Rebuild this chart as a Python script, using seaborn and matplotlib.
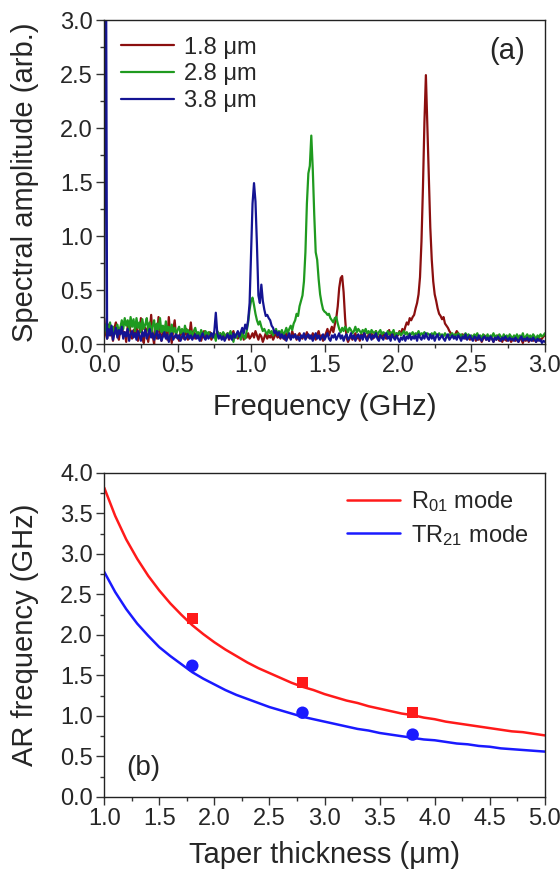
import numpy as np
import pandas as pd
import matplotlib
matplotlib.use("Agg")
import matplotlib.pyplot as plt
from matplotlib.ticker import MultipleLocator, FormatStrFormatter
import seaborn as sns

# ---- panel (a): spectra, sampled every 0.01 GHz from 0.00 to 3.00 ----
freq = np.round(np.arange(301) * 0.01, 2)

amp_18 = [
    0.24, 0.10, 0.05, 0.18, 0.08, 0.12, 0.03, 0.15, 0.20, 0.09,
    0.04, 0.14, 0.19, 0.07, 0.11, 0.02, 0.16, 0.21, 0.10, 0.05,
    0.13, 0.08, 0.18, 0.03, 0.11, 0.24, 0.06, 0.01, 0.15, 0.09,
    0.02, 0.12, 0.27, 0.08, 0.00, 0.18, 0.05, 0.25, 0.10, 0.03,
    0.12, 0.07, 0.18, 0.04, 0.25, 0.09, 0.01, 0.13, 0.22, 0.06,
    0.08, 0.03, 0.12, 0.10, 0.05, 0.09, 0.14, 0.04, 0.08, 0.20,
    0.07, 0.11, 0.05, 0.10, 0.06, 0.09, 0.03, 0.08, 0.12, 0.05,
    0.09, 0.06, 0.11, 0.04, 0.08, 0.10, 0.05, 0.09, 0.07, 0.10,
    0.06, 0.09, 0.05, 0.08, 0.10, 0.04, 0.07, 0.09, 0.12, 0.06,
    0.08, 0.05, 0.09, 0.07, 0.11, 0.04, 0.08, 0.06, 0.10, 0.05,
    0.07, 0.10, 0.06, 0.12, 0.08, 0.04, 0.09, 0.07, 0.02, 0.06,
    0.10, 0.05, 0.08, 0.06, 0.09, 0.04, 0.07, 0.11, 0.06, 0.08,
    0.05, 0.09, 0.07, 0.04, 0.10, 0.06, 0.08, 0.05, 0.12, 0.07,
    0.09, 0.04, 0.08, 0.10, 0.06, 0.05, 0.09, 0.07, 0.11, 0.06,
    0.08, 0.05, 0.10, 0.07, 0.04, 0.09, 0.12, 0.06, 0.08, 0.03,
    0.07, 0.10, 0.14, 0.08, 0.12, 0.16, 0.11, 0.18, 0.24, 0.35,
    0.52, 0.61, 0.63, 0.48, 0.24, 0.06, 0.02, 0.05, 0.08, 0.04,
    0.07, 0.10, 0.05, 0.08, 0.03, 0.09, 0.06, 0.11, 0.07, 0.04,
    0.09, 0.06, 0.10, 0.05, 0.08, 0.12, 0.07, 0.04, 0.09, 0.06,
    0.10, 0.07, 0.05, 0.09, 0.13, 0.06, 0.08, 0.11, 0.07, 0.10,
    0.08, 0.12, 0.09, 0.14, 0.11, 0.16, 0.20, 0.18, 0.24, 0.22,
    0.25, 0.27, 0.33, 0.38, 0.46, 0.62, 0.95, 1.45, 2.05, 2.49,
    2.02, 1.55, 1.08, 0.78, 0.58, 0.46, 0.40, 0.33, 0.28, 0.26,
    0.23, 0.25, 0.19, 0.17, 0.15, 0.12, 0.10, 0.08, 0.07, 0.09,
    0.12, 0.10, 0.08, 0.06, 0.09, 0.07, 0.05, 0.08, 0.06, 0.04,
    0.07, 0.05, 0.08, 0.03, 0.06, 0.04, 0.07, 0.02, 0.05, 0.08,
    0.04, 0.06, 0.03, 0.07, 0.05, 0.02, 0.06, 0.04, 0.08, 0.03,
    0.05, 0.02, 0.06, 0.04, 0.03, 0.07, 0.05, 0.02, 0.04, 0.06,
    0.03, 0.05, 0.02, 0.06, 0.04, 0.01, 0.05, 0.03, 0.06, 0.02,
    0.04, 0.06, 0.03, 0.05, 0.02, 0.04, 0.06, 0.03, 0.05, 0.07,
    0.08,
]

amp_28 = [
    0.12, 0.18, 0.08, 0.14, 0.20, 0.10, 0.16, 0.09, 0.13, 0.18,
    0.11, 0.15, 0.22, 0.14, 0.24, 0.17, 0.22, 0.13, 0.25, 0.16,
    0.23, 0.12, 0.24, 0.15, 0.20, 0.11, 0.23, 0.14, 0.18, 0.24,
    0.12, 0.20, 0.09, 0.17, 0.22, 0.10, 0.19, 0.13, 0.24, 0.11,
    0.17, 0.09, 0.21, 0.12, 0.16, 0.08, 0.18, 0.11, 0.15, 0.09,
    0.13, 0.16, 0.10, 0.14, 0.08, 0.17, 0.11, 0.13, 0.09, 0.12,
    0.08, 0.12, 0.15, 0.09, 0.11, 0.07, 0.13, 0.10, 0.08, 0.12,
    0.09, 0.11, 0.07, 0.10, 0.06, 0.09, 0.03, 0.12, 0.08, 0.10,
    0.07, 0.11, 0.09, 0.06, 0.10, 0.08, 0.12, 0.07, 0.02, 0.09,
    0.06, 0.10, 0.08, 0.04, 0.11, 0.07, 0.05, 0.12, 0.20, 0.32,
    0.40, 0.43, 0.36, 0.28, 0.22, 0.18, 0.21, 0.16, 0.12, 0.14,
    0.11, 0.09, 0.13, 0.10, 0.12, 0.08, 0.11, 0.14, 0.09, 0.12,
    0.10, 0.13, 0.08, 0.11, 0.15, 0.10, 0.14, 0.17, 0.13, 0.19,
    0.22, 0.28, 0.26, 0.35, 0.40, 0.45, 0.58, 0.85, 1.30, 1.58,
    1.65, 1.93, 1.62, 1.20, 0.85, 0.78, 0.60, 0.46, 0.38, 0.32,
    0.30, 0.29, 0.27, 0.28, 0.24, 0.22, 0.20, 0.24, 0.25, 0.19,
    0.14, 0.11, 0.15, 0.12, 0.16, 0.14, 0.11, 0.15, 0.13, 0.10,
    0.12, 0.16, 0.11, 0.14, 0.12, 0.10, 0.13, 0.11, 0.14, 0.10,
    0.12, 0.09, 0.13, 0.11, 0.10, 0.12, 0.08, 0.11, 0.13, 0.09,
    0.11, 0.10, 0.08, 0.12, 0.09, 0.11, 0.10, 0.13, 0.08, 0.10,
    0.09, 0.11, 0.08, 0.10, 0.12, 0.09, 0.11, 0.08, 0.10, 0.09,
    0.11, 0.08, 0.10, 0.09, 0.12, 0.08, 0.10, 0.09, 0.11, 0.08,
    0.10, 0.09, 0.07, 0.10, 0.08, 0.11, 0.09, 0.07, 0.10, 0.08,
    0.09, 0.07, 0.10, 0.08, 0.06, 0.09, 0.08, 0.10, 0.07, 0.09,
    0.08, 0.10, 0.07, 0.09, 0.06, 0.08, 0.10, 0.07, 0.09, 0.06,
    0.08, 0.06, 0.09, 0.07, 0.10, 0.06, 0.08, 0.05, 0.09, 0.07,
    0.06, 0.09, 0.05, 0.08, 0.07, 0.10, 0.06, 0.08, 0.05, 0.09,
    0.07, 0.05, 0.09, 0.06, 0.08, 0.04, 0.09, 0.07, 0.05, 0.08,
    0.06, 0.09, 0.05, 0.08, 0.06, 0.10, 0.05, 0.07, 0.09, 0.06,
    0.08, 0.05, 0.09, 0.07, 0.04, 0.08, 0.06, 0.09, 0.07, 0.08,
    0.10,
]

amp_38 = [
    0.12, 5.00, 0.05, 0.14, 0.08, 0.17, 0.04, 0.10, 0.15, 0.06,
    0.13, 0.09, 0.16, 0.05, 0.11, 0.07, 0.14, 0.03, 0.09, 0.12,
    0.06, 0.10, 0.04, 0.12, 0.08, 0.03, 0.11, 0.07, 0.13, 0.05,
    0.09, 0.14, 0.06, 0.10, 0.04, 0.08, 0.12, 0.05, 0.09, 0.03,
    0.07, 0.11, 0.05, 0.09, 0.02, 0.08, 0.10, 0.04, 0.07, 0.09,
    0.05, 0.08, 0.03, 0.07, 0.10, 0.04, 0.06, 0.09, 0.05, 0.08,
    0.04, 0.07, 0.09, 0.05, 0.08, 0.03, 0.07, 0.10, 0.06, 0.04,
    0.08, 0.05, 0.07, 0.10, 0.06, 0.12, 0.29, 0.10, 0.05, 0.08,
    0.04, 0.07, 0.03, 0.06, 0.09, 0.05, 0.08, 0.04, 0.10, 0.06,
    0.09, 0.12, 0.07, 0.11, 0.15, 0.10, 0.18, 0.14, 0.22, 0.38,
    0.85, 1.30, 1.49, 1.32, 0.92, 0.45, 0.38, 0.55, 0.40, 0.32,
    0.26, 0.27, 0.24, 0.22, 0.17, 0.15, 0.10, 0.12, 0.08, 0.11,
    0.06, 0.09, 0.05, 0.08, 0.03, 0.07, 0.10, 0.04, 0.08, 0.06,
    0.09, 0.05, 0.07, 0.03, 0.08, 0.06, 0.10, 0.04, 0.07, 0.09,
    0.05, 0.08, 0.03, 0.07, 0.10, 0.05, 0.08, 0.04, 0.06, 0.09,
    0.04, 0.07, 0.10, 0.05, 0.03, 0.08, 0.06, 0.09, 0.04, 0.07,
    0.10, 0.05, 0.08, 0.03, 0.07, 0.09, 0.04, 0.06, 0.10, 0.05,
    0.08, 0.03, 0.07, 0.09, 0.05, 0.08, 0.04, 0.10, 0.06, 0.03,
    0.07, 0.09, 0.04, 0.08, 0.06, 0.10, 0.05, 0.03, 0.08, 0.06,
    0.04, 0.08, 0.10, 0.05, 0.07, 0.03, 0.09, 0.06, 0.04, 0.08,
    0.05, 0.02, 0.06, 0.04, 0.08, 0.03, 0.07, 0.05, 0.09, 0.04,
    0.07, 0.05, 0.08, 0.03, 0.09, 0.06, 0.04, 0.08, 0.05, 0.10,
    0.06, 0.04, 0.09, 0.05, 0.08, 0.03, 0.07, 0.09, 0.04, 0.06,
    0.08, 0.05, 0.03, 0.07, 0.09, 0.04, 0.06, 0.08, 0.05, 0.07,
    0.04, 0.08, 0.06, 0.03, 0.07, 0.05, 0.09, 0.04, 0.06, 0.08,
    0.05, 0.03, 0.07, 0.06, 0.04, 0.08, 0.05, 0.03, 0.06, 0.07,
    0.04, 0.06, 0.03, 0.07, 0.05, 0.02, 0.06, 0.04, 0.07, 0.05,
    0.03, 0.06, 0.04, 0.07, 0.05, 0.03, 0.06, 0.04, 0.05, 0.03,
    0.06, 0.04, 0.02, 0.05, 0.07, 0.03, 0.05, 0.04, 0.06, 0.03,
    0.05, 0.03, 0.06, 0.04, 0.02, 0.05, 0.03, 0.04, 0.01, 0.03,
    0.02,
]

spectra_labels = ["1.8 \u03bcm", "2.8 \u03bcm", "3.8 \u03bcm"]
spectra_colors = ["#8b0f0f", "#1f9a1f", "#141493"]

# ---- panel (b): AR frequency vs taper thickness ----
thick_fit = np.round(np.arange(41) * 0.1 + 1.0, 1)
r01_fit = [3.82, 3.47, 3.18, 2.94, 2.73, 2.55, 2.39, 2.25, 2.12, 2.01,
           1.91, 1.82, 1.74, 1.66, 1.59, 1.53, 1.47, 1.41, 1.36, 1.32,
           1.27, 1.23, 1.19, 1.16, 1.12, 1.09, 1.06, 1.03, 1.01, 0.98,
           0.96, 0.93, 0.91, 0.89, 0.87, 0.85, 0.83, 0.81, 0.80, 0.78,
           0.76]
tr21_fit = [2.78, 2.53, 2.32, 2.14, 1.99, 1.85, 1.74, 1.64, 1.54, 1.46,
            1.39, 1.32, 1.26, 1.21, 1.16, 1.11, 1.07, 1.03, 0.99, 0.96,
            0.93, 0.90, 0.87, 0.84, 0.82, 0.79, 0.77, 0.75, 0.73, 0.71,
            0.70, 0.68, 0.66, 0.65, 0.63, 0.62, 0.60, 0.59, 0.58, 0.57,
            0.56]
mode_labels = ["R$_{01}$ mode", "TR$_{21}$ mode"]
thick_meas = [1.8, 2.8, 3.8]
r01_meas = [2.20, 1.41, 1.04]
tr21_meas = [1.62, 1.04, 0.77]

sns.set_style("ticks")
plt.rcParams["font.family"] = ["Liberation Sans", "DejaVu Sans"]
plt.rcParams["mathtext.fontset"] = "custom"
plt.rcParams["mathtext.rm"] = "Liberation Sans"
plt.rcParams["mathtext.it"] = "Liberation Sans"

fig = plt.figure(figsize=(5.6, 8.71), dpi=100)
ax1 = fig.add_axes([0.186, 0.605, 0.787, 0.372])
ax2 = fig.add_axes([0.186, 0.085, 0.787, 0.372])

spec = pd.DataFrame({
    "freq": np.concatenate([freq, freq, freq]),
    "amp": np.concatenate([amp_18, amp_28, amp_38]),
    "sample": np.repeat(spectra_labels, len(freq)),
})
sns.lineplot(data=spec, x="freq", y="amp", hue="sample", palette=spectra_colors,
             hue_order=spectra_labels, linewidth=1.6, ax=ax1, sort=False,
             estimator=None)
ax1.set_xlim(0, 3.0)
ax1.set_ylim(0, 3.0)
ax1.set_xlabel("Frequency (GHz)", fontsize=21)
ax1.set_ylabel("Spectral amplitude (arb.)", fontsize=21)
ax1.xaxis.set_label_coords(0.5, -0.195)
ax1.xaxis.label.set_va("center")
ax1.yaxis.set_label_coords(-0.18, 0.5)
ax1.yaxis.label.set_va("center")
ax1.legend(loc="upper left", frameon=False, fontsize=17, handlelength=2.25,
           handletextpad=0.45, borderaxespad=0.3, labelspacing=0.2,
           bbox_to_anchor=(0.0, 1.0))
ax1.text(0.955, 0.905, "(a)", transform=ax1.transAxes, fontsize=21,
         ha="right", va="center")

fits = pd.DataFrame({
    "thick": np.concatenate([thick_fit, thick_fit]),
    "freq": np.concatenate([r01_fit, tr21_fit]),
    "mode": np.repeat(mode_labels, len(thick_fit)),
})
sns.lineplot(data=fits, x="thick", y="freq", hue="mode", hue_order=mode_labels,
             palette=["#ff1a1a", "#1a1aff"], linewidth=1.8, ax=ax2)
sns.scatterplot(x=thick_meas, y=r01_meas, marker="s", s=65, color="#ff1a1a",
                edgecolor="none", ax=ax2, legend=False, zorder=3)
sns.scatterplot(x=thick_meas, y=tr21_meas, marker="o", s=80, color="#1a1aff",
                edgecolor="none", ax=ax2, legend=False, zorder=3)
ax2.set_xlim(1.0, 5.0)
ax2.set_ylim(0, 4.0)
ax2.set_xlabel("Taper thickness (\u03bcm)", fontsize=21)
ax2.set_ylabel("AR frequency (GHz)", fontsize=21)
ax2.xaxis.set_label_coords(0.5, -0.18)
ax2.xaxis.label.set_va("center")
ax2.yaxis.set_label_coords(-0.18, 0.5)
ax2.yaxis.label.set_va("center")
ax2.legend(loc="upper right", frameon=False, fontsize=17, handlelength=2.25,
           handletextpad=0.45, labelspacing=0.35, borderaxespad=0.3,
           bbox_to_anchor=(1.0, 1.0))
ax2.text(0.05, 0.09, "(b)", transform=ax2.transAxes, fontsize=20,
         ha="left", va="center")

for ax in (ax1, ax2):
    ax.xaxis.set_major_locator(MultipleLocator(0.5))
    ax.yaxis.set_major_locator(MultipleLocator(0.5))
    ax.xaxis.set_minor_locator(MultipleLocator(0.25))
    ax.yaxis.set_minor_locator(MultipleLocator(0.25))
    ax.tick_params(which="major", direction="out", length=6, width=1.0,
                   labelsize=17, color="#333333", pad=2)
    ax.tick_params(which="minor", direction="out", length=3, width=1.0,
                   color="#333333")
    ax.xaxis.set_major_formatter(FormatStrFormatter("%.1f"))
    ax.yaxis.set_major_formatter(FormatStrFormatter("%.1f"))
    for sp in ax.spines.values():
        sp.set_visible(True)
        sp.set_linewidth(1.0)
        sp.set_color("#222222")

fig.savefig("out.png", dpi=100)
